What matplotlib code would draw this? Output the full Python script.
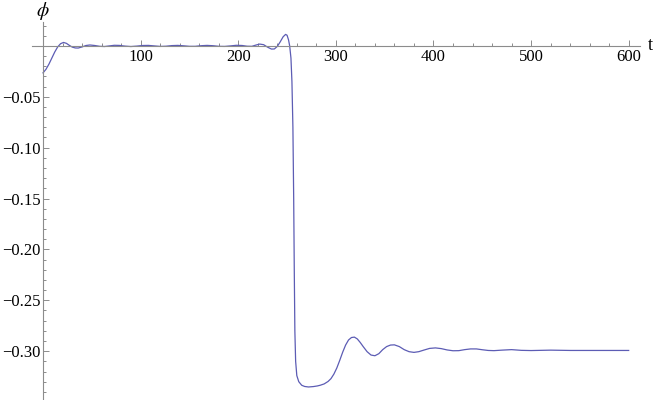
import matplotlib
matplotlib.use("Agg")
import matplotlib.pyplot as plt
from matplotlib.ticker import FixedLocator

# Data
t = [0, 3, 6, 9, 12, 15, 18, 21, 24, 27, 30, 33, 36, 40, 44, 48, 53, 58, 63, 68,
     73, 78, 84, 90, 96, 102, 108, 114, 120, 126, 132, 138, 144, 150, 156, 162,
     168, 174, 180, 186, 192, 198, 204, 209, 214, 218, 222, 226, 230, 234, 237,
     240, 243, 246, 248.5, 250, 251.5, 252.7, 254, 255, 256, 256.8, 257.4, 258,
     258.8, 260, 262, 265, 268, 272, 277, 281, 284, 288, 292, 295, 298, 301, 304,
     307, 310, 313, 316, 319, 322, 325, 328, 332, 336, 340, 344, 348, 352, 356,
     360, 365, 370, 375, 380, 385, 390, 396, 402, 408, 414, 420, 426, 432, 438,
     444, 450, 456, 462, 470, 480, 490, 500, 520, 540, 560, 580, 600]
phi = [-0.0265, -0.023, -0.018, -0.012, -0.006, -0.001, 0.0022, 0.0034, 0.0025,
       0.0005, -0.0012, -0.002, -0.0021, -0.001, 0.0004, 0.0009, 0.0004, -0.0004,
       -0.0006, 0.0, 0.0006, 0.0005, -0.0002, -0.0006, -0.0002, 0.0004, 0.0005,
       0.0, -0.0005, -0.0003, 0.0003, 0.0005, 0.0001, -0.0004, -0.0004, 0.0002,
       0.0005, 0.0002, -0.0004, -0.0005, 0.0, 0.0006, 0.0004, -0.0003, -0.0004,
       0.0008, 0.0018, 0.0012, -0.0012, -0.0031, -0.003, -0.0005, 0.004, 0.009,
       0.0113, 0.0105, 0.006, 0.0, -0.012, -0.035, -0.08, -0.15, -0.22, -0.28,
       -0.31, -0.324, -0.330, -0.3335, -0.3347, -0.3352, -0.3348, -0.3342,
       -0.3335, -0.3322, -0.3298, -0.3270, -0.3225, -0.3165, -0.3090, -0.3010,
       -0.2940, -0.2890, -0.2866, -0.2862, -0.2880, -0.2915, -0.2955, -0.3005,
       -0.3038, -0.3045, -0.3025, -0.2985, -0.2955, -0.2940, -0.2938, -0.2955,
       -0.2985, -0.3005, -0.3012, -0.3005, -0.2990, -0.2973, -0.2968, -0.2975,
       -0.2988, -0.2996, -0.2995, -0.2985, -0.2978, -0.2978, -0.2986, -0.2993,
       -0.2995, -0.2990, -0.2985, -0.2992, -0.2994, -0.2990, -0.2993, -0.2993,
       -0.2993, -0.2993]

x_major = [100, 200, 300, 400, 500, 600]
x_labels = ["100", "200", "300", "400", "500", "600"]
y_major = [-0.30, -0.25, -0.20, -0.15, -0.10, -0.05]
y_labels = ["\u22120.30", "\u22120.25", "\u22120.20", "\u22120.15", "\u22120.10", "\u22120.05"]

plt.rcParams['mathtext.fontset'] = 'stix'
plt.rcParams['font.family'] = ['Liberation Serif', 'DejaVu Serif']

fig = plt.figure(figsize=(6.54, 4.0), dpi=100)
W, H = 654, 400
left_px, right_px, top_px = 32, 640, 22
ax = fig.add_axes([left_px / W, 0, (right_px - left_px) / W, (H - top_px) / H])

ax.plot(t, phi, color='#5c5cb4', lw=0.9, solid_joinstyle='round')

ax.set_xlim(-11.3, 611.6)
ax.set_ylim(-0.348, 0.0235)

axis_col = '#8c8c8c'
for s in ['top', 'right']:
    ax.spines[s].set_visible(False)
ax.spines['left'].set_position(('data', 0))
ax.spines['bottom'].set_position(('data', 0))
for s in ['left', 'bottom']:
    ax.spines[s].set_color(axis_col)
    ax.spines[s].set_linewidth(0.8)

ax.xaxis.set_major_locator(FixedLocator(x_major))
ax.set_xticklabels(x_labels)
ax.xaxis.set_minor_locator(FixedLocator([v for v in range(20, 601, 20) if v % 100]))
ax.yaxis.set_major_locator(FixedLocator(y_major))
ax.set_yticklabels(y_labels)
ax.yaxis.set_minor_locator(FixedLocator([round(-0.34 + 0.01 * i, 2) for i in range(37)
                                         if round((-0.34 + 0.01 * i) * 100) % 5 != 0]))

ax.tick_params(which='both', direction='in', color=axis_col, width=0.7)
ax.tick_params(which='major', length=4.5, labelsize=12, labelcolor='black')
ax.tick_params(axis='x', which='major', pad=2.5)
ax.tick_params(axis='y', which='major', pad=1.5)
ax.tick_params(which='minor', length=2.5)

fig.text(43 / W, 1 - 11 / H, r'$\phi$', fontsize=14, ha='center', va='center')
fig.text(650 / W, 1 - 46 / H, 't', fontsize=13, ha='center', va='center')

fig.savefig('out.png', dpi=100)
